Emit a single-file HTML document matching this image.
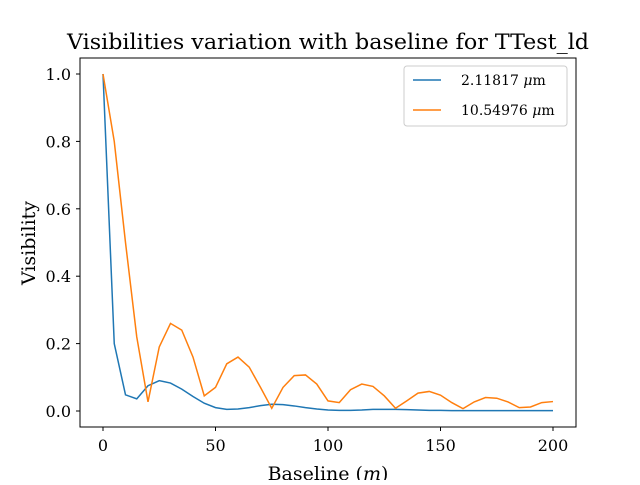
<!DOCTYPE html>
<html><head><meta charset="utf-8"><style>
body{margin:0;background:#fff}
svg{font-family:"DejaVu Serif","Liberation Serif",serif}
</style></head><body>
<svg id="chart" width="640" height="480" viewBox="0 0 640 480">
<rect width="640" height="480" fill="#fff"/>
<text x="328" y="49" font-size="21" text-anchor="middle" textLength="522" lengthAdjust="spacingAndGlyphs">Visibilities variation with baseline for TTest_ld</text>
<g id="ticks"></g>
<g id="series"></g>
<rect x="80" y="58" width="496" height="369" fill="none" stroke="#000" stroke-width="1"/>
<text x="328" y="480" font-size="19" text-anchor="middle">Baseline (<tspan font-style="italic">m</tspan>)</text>
<text transform="translate(35,243) rotate(-90)" font-size="19" text-anchor="middle">Visibility</text>
<g>
<rect x="404" y="66" width="163" height="60" rx="3" fill="#fff" stroke="#ccc"/>
<line x1="413" y1="80" x2="441" y2="80" stroke="#1f77b4" stroke-width="1.5"/>
<text x="461" y="85" font-size="14">2.11817 <tspan font-style="italic">μ</tspan>m</text>
<line x1="413" y1="110" x2="441" y2="110" stroke="#ff7f0e" stroke-width="1.5"/>
<text x="461" y="115" font-size="14">10.54976 <tspan font-style="italic">μ</tspan>m</text>
</g>
</svg>
<script>
const baselines=[0,5,10,15,20,25,30,35,40,45,50,55,60,65,70,75,80,85,90,95,100,105,110,115,120,125,130,135,140,145,150,155,160,165,170,175,180,185,190,195,200];
const visBlue=[1.0,0.2,0.048,0.036,0.075,0.09,0.083,0.065,0.043,0.023,0.01,0.005,0.006,0.01,0.016,0.02,0.019,0.015,0.01,0.006,0.003,0.002,0.002,0.003,0.005,0.005,0.005,0.004,0.003,0.002,0.002,0.001,0.001,0.001,0.001,0.001,0.001,0.001,0.001,0.001,0.001];
const visOrange=[1.0,0.8,0.5,0.22,0.027,0.19,0.26,0.24,0.16,0.045,0.07,0.14,0.16,0.13,0.07,0.008,0.07,0.105,0.107,0.08,0.03,0.025,0.063,0.08,0.073,0.045,0.008,0.03,0.053,0.058,0.047,0.025,0.007,0.027,0.04,0.038,0.027,0.01,0.012,0.025,0.028];
const xTicks=[0,50,100,150,200];
const yTicks=[0.0,0.2,0.4,0.6,0.8,1.0];
const NS="http://www.w3.org/2000/svg";
function xs(v){return 103+v*2.25;}
function ys(v){return 411-v*337;}
const tg=document.getElementById('ticks');
xTicks.forEach(t=>{
 const l=document.createElementNS(NS,'line');
 l.setAttribute('x1',xs(t));l.setAttribute('x2',xs(t));l.setAttribute('y1',427);l.setAttribute('y2',431);l.setAttribute('stroke','#000');
 
 
 tg.appendChild(l);
 const tx=document.createElementNS(NS,'text');
 tx.setAttribute('x',xs(t));tx.setAttribute('y',451);tx.setAttribute('font-size','16');tx.setAttribute('text-anchor','middle');
 tx.textContent=t;
 
 
 tg.appendChild(tx);
});
yTicks.forEach(t=>{
 const l=document.createElementNS(NS,'line');
 l.setAttribute('x1',76);l.setAttribute('x2',80);l.setAttribute('y1',ys(t));l.setAttribute('y2',ys(t));l.setAttribute('stroke','#000');
 
 
 tg.appendChild(l);
 const tx=document.createElementNS(NS,'text');
 tx.setAttribute('x',71);tx.setAttribute('y',ys(t)+6);tx.setAttribute('font-size','16');tx.setAttribute('text-anchor','end');
 tx.textContent=t.toFixed(1);
 
 
 tg.appendChild(tx);
});
const sg=document.getElementById('series');
[[visBlue,'#1f77b4','series-2-11817um'],[visOrange,'#ff7f0e','series-10-54976um']].forEach(([d,c,n])=>{
 const p=document.createElementNS(NS,'polyline');
 p.setAttribute('points',d.map((v,i)=>xs(baselines[i])+','+ys(v)).join(' '));
 p.setAttribute('fill','none');p.setAttribute('stroke',c);p.setAttribute('stroke-width','1.5');
 
 
 sg.appendChild(p);
});
</script>
</body></html>
